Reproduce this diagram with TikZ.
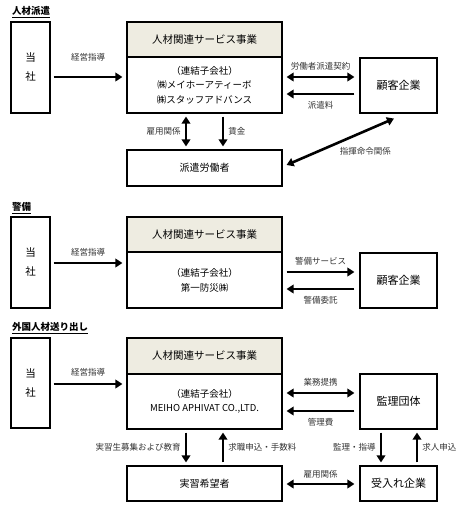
\documentclass[tikz,border=0pt]{standalone}
\usepackage{fontspec}
\setmainfont{Noto Sans CJK JP}
\usetikzlibrary{arrows.meta,calc}
\definecolor{hdr}{HTML}{EEECE1}
\definecolor{lbl}{HTML}{333333}
\begin{document}
\begin{tikzpicture}[x=1pt,y=-1pt,
  box/.style={draw,line width=1.1pt,inner sep=0pt,align=center,font=\fontsize{10}{14}\selectfont},
  hbox/.style={box,fill=hdr,font=\fontsize{10.5}{12}\selectfont},
  tbox/.style={box,minimum width=39pt,font=\fontsize{10.5}{19}\selectfont},
  lab/.style={text=lbl,font=\fontsize{8.5}{10}\selectfont,inner sep=1pt},
  ttl/.style={anchor=west,font=\bfseries\fontsize{9.5}{11}\selectfont,inner sep=0pt},
  arr/.style={line width=2.6pt,-{Triangle[length=7pt,width=8.5pt]}},
  darr/.style={line width=2.6pt,{Triangle[length=7pt,width=8.5pt]}-{Triangle[length=7pt,width=8.5pt]}}]
\useasboundingbox (0,0) rectangle (464,509);

% ---------- Section 1 ----------
\node[ttl] (s1) at (12,12) {\underline{人材派遣}};
\node[tbox,minimum height=91pt] (t1) at (30.5,67.5) {当\\社};
\node[hbox,minimum width=155pt,minimum height=35pt] (m1h) at (204.5,39.5) {人材関連サービス事業};
\node[box,minimum width=155pt,minimum height=56pt,font=\fontsize{9.5}{14.5}\selectfont] (m1b) at (204.5,85) {（連結子会社）\\㈱メイホーアティーボ\\㈱スタッフアドバンス};
\node[box,minimum width=77pt,minimum height=55pt,font=\fontsize{11}{13}\selectfont] (k1) at (398.5,85.5) {顧客企業};
\node[box,minimum width=155pt,minimum height=36pt] (w1) at (204.5,168) {派遣労働者};

\draw[arr] ($(t1.east)+(3,9.5)$) -- ($(m1b.west)+(-4,-8)$) node[lab,midway,yshift=20pt]{経営指導};
\draw[darr] ($(m1b.east)+(4,-8)$) -- ($(k1.west)+(-5,-8.5)$) node[lab,midway,yshift=10.5pt]{労働者派遣契約};
\draw[arr] ($(k1.west)+(-5,8.5)$) -- ($(m1b.east)+(4,9)$) node[lab,midway,yshift=-11pt]{派遣料};
\draw[darr] ($(m1b.south)+(-18.5,3)$) -- ($(w1.north)+(-18.5,-3)$) node[lab,midway,left=3pt]{雇用関係};
\draw[arr] ($(m1b.south)+(18.5,3)$) -- ($(w1.north)+(18.5,-3)$) node[lab,midway,right=3pt]{賃金};
\draw[darr] ($(w1.east)+(4,-3)$) -- ($(k1.south)+(-4.5,5)$) node[lab,midway,xshift=25pt,yshift=-9pt]{指揮命令関係};

% ---------- Section 2 ----------
\node[ttl] (s2) at (12,208) {\underline{警備}};
\node[tbox,minimum height=91pt] (t2) at (30.5,262.5) {当\\社};
\node[hbox,minimum width=155pt,minimum height=35pt] (m2h) at (204.5,234.5) {人材関連サービス事業};
\node[box,minimum width=155pt,minimum height=56pt,font=\fontsize{9.5}{15}\selectfont] (m2b) at (204.5,280) {（連結子会社）\\第一防災㈱};
\node[box,minimum width=77pt,minimum height=55pt,font=\fontsize{11}{13}\selectfont] (k2) at (398.5,280.5) {顧客企業};

\draw[arr] ($(t2.east)+(3,0.5)$) -- ($(m2b.west)+(-4,-17)$) node[lab,midway,yshift=11pt]{経営指導};
\draw[arr] ($(m2b.east)+(4,-8)$) -- ($(k2.west)+(-5,-8.5)$) node[lab,midway,yshift=11pt]{警備サービス};
\draw[arr] ($(k2.west)+(-5,8.5)$) -- ($(m2b.east)+(4,9)$) node[lab,midway,yshift=-11pt]{警備委託};

% ---------- Section 3 ----------
\node[ttl] (s3) at (12,328) {\underline{外国人材送り出し}};
\node[tbox,minimum height=90pt] (t3) at (30.5,383) {当\\社};
\node[hbox,minimum width=155pt,minimum height=36pt] (m3h) at (204.5,356) {人材関連サービス事業};
\node[box,minimum width=155pt,minimum height=55pt,font=\fontsize{9.5}{14}\selectfont] (m3b) at (204.5,401.5) {（連結子会社）\\MEIHO APHIVAT CO.,LTD.};
\node[box,minimum width=77pt,minimum height=55pt,font=\fontsize{11}{13}\selectfont] (k3) at (398.5,401.5) {監理団体};
\node[box,minimum width=155pt,minimum height=35pt] (j3) at (204.5,483.5) {実習希望者};
\node[box,minimum width=77pt,minimum height=35pt,font=\fontsize{11}{13}\selectfont] (u3) at (398.5,483.5) {受入れ企業};

\draw[arr] ($(t3.east)+(3,1)$) -- ($(m3b.west)+(-4,-17.5)$) node[lab,midway,yshift=12pt]{経営指導};
\draw[darr] ($(m3b.east)+(4,-8.5)$) -- ($(k3.west)+(-5,-8.5)$) node[lab,midway,yshift=11pt]{業務提携};
\draw[arr] ($(k3.west)+(-5,9.5)$) -- ($(m3b.east)+(4,9.5)$) node[lab,midway,yshift=-11pt]{管理費};
\draw[arr] ($(m3b.south)+(-18.5,3)$) -- ($(j3.north)+(-18.5,-3)$) node[lab,midway,left=3pt]{実習生募集および教育};
\draw[arr] ($(j3.north)+(18.5,-3)$) -- ($(m3b.south)+(18.5,3)$) node[lab,midway,right=3pt]{求職申込・手数料};
\draw[darr] ($(j3.east)+(4,0.5)$) -- ($(u3.west)+(-5,0.5)$) node[lab,midway,yshift=10pt]{雇用関係};
\draw[arr] ($(k3.south)+(-17.5,3)$) -- ($(u3.north)+(-17.5,-3)$) node[lab,midway,left=3pt]{監理・指導};
\draw[arr] ($(u3.north)+(18.5,-3)$) -- ($(k3.south)+(18.5,3)$) node[lab,midway,right=3pt]{求人申込};
\end{tikzpicture}
\end{document}
